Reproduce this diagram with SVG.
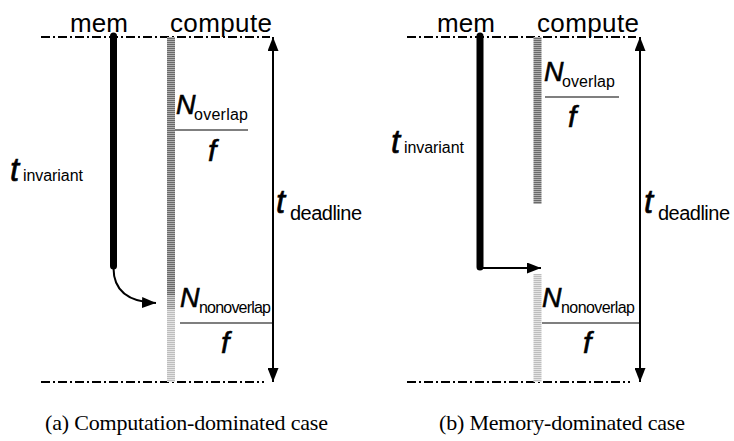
<svg xmlns="http://www.w3.org/2000/svg" width="734" height="441" viewBox="0 0 734 441">
<style>
.sans{font-family:"Liberation Sans",Arial,sans-serif;fill:#000}
.big{font-size:26px}
.nn{font-size:27px;font-style:italic;stroke:#000;stroke-width:0.6}
.tt{font-size:33px;font-style:italic;stroke:#000;stroke-width:0.6}
.ff{font-size:30px;font-style:italic;stroke:#000;stroke-width:0.6}
.sub{font-size:16px}
.cap{font-family:"Liberation Serif","Times New Roman",serif;font-size:22px;fill:#000}
.dd{stroke:#000;stroke-width:2;stroke-dasharray:9 3 2 3;fill:none}
.mem{stroke:#000;stroke-width:7;stroke-linecap:round;fill:none}
.frac{stroke:#000;stroke-width:1.2}
.arr{stroke:#000;stroke-width:2;fill:none}
</style>
<defs>
<pattern id="pd" patternUnits="userSpaceOnUse" width="8" height="2"><rect width="8" height="2" fill="#b0b0b0"/><rect width="8" height="1" fill="#6a6a6a"/></pattern>
<pattern id="pl" patternUnits="userSpaceOnUse" width="8" height="2"><rect width="8" height="2" fill="#e4e4e4"/><rect width="8" height="1" fill="#bdbdbd"/></pattern>
<pattern id="pm" patternUnits="userSpaceOnUse" width="8" height="2"><rect width="8" height="2" fill="#cfcfcf"/><rect width="8" height="1" fill="#939393"/></pattern>
<marker id="ah" viewBox="0 0 14 11" refX="14" refY="5.5" markerWidth="14" markerHeight="11" markerUnits="userSpaceOnUse" orient="auto-start-reverse"><path d="M0,0 L14,5.5 L0,11 z" fill="#000"/></marker>
</defs>

<g id="timelines">
<line class="dd" x1="41" y1="37" x2="270" y2="37"/>
<line class="dd" x1="41" y1="382" x2="264" y2="382"/>
<line class="dd" x1="407" y1="37" x2="636" y2="37"/>
<line class="dd" x1="407" y1="382" x2="630" y2="382"/>
</g>

<g id="a-mem">
<text class="sans big" x="70" y="32" textLength="58">mem</text>
<line class="mem" x1="113.5" y1="36" x2="113.5" y2="266"/>
</g>
<g id="a-compute">
<text class="sans big" x="170" y="32" textLength="102">compute</text>
<rect x="167" y="37" width="8" height="258" fill="url(#pd)"/>
<rect x="167" y="295" width="8" height="14" fill="url(#pm)"/>
<rect x="167" y="309" width="8" height="73" fill="url(#pl)"/>
</g>
<g id="a-tinv">
<text class="sans tt" x="10" y="181">t</text>
<text class="sans sub" x="23" y="181" textLength="60">invariant</text>
</g>
<g id="a-nover">
<text class="sans nn" x="176" y="114">N</text>
<text class="sans sub" x="194" y="120" textLength="54">overlap</text>
<line class="frac" x1="175" y1="130" x2="248" y2="130"/>
<text class="sans ff" x="208" y="161">f</text>
</g>
<g id="a-nnon">
<text class="sans nn" x="180" y="307">N</text>
<text class="sans sub" x="199" y="313" textLength="72">nonoverlap</text>
<line class="frac" x1="180" y1="323" x2="273" y2="323"/>
<text class="sans ff" x="221" y="353">f</text>
</g>
<g id="a-tdead">
<text class="sans tt" x="276" y="213">t</text>
<text class="sans" font-size="20" x="290" y="220" textLength="72">deadline</text>
</g>

<g id="b-mem">
<text class="sans big" x="437" y="32" textLength="58">mem</text>
<line class="mem" x1="480" y1="36" x2="480" y2="267"/>
</g>
<g id="b-compute">
<text class="sans big" x="537" y="32" textLength="102">compute</text>
<rect x="533.5" y="37" width="8" height="167" fill="url(#pd)"/>
<rect x="533.5" y="274" width="8" height="108" fill="url(#pl)"/>
</g>
<g id="b-tinv">
<text class="sans tt" x="391" y="153">t</text>
<text class="sans sub" x="404" y="153" textLength="60">invariant</text>
</g>
<g id="b-nover">
<text class="sans nn" x="544" y="81">N</text>
<text class="sans sub" x="562" y="87" textLength="53">overlap</text>
<line class="frac" x1="545" y1="97" x2="619" y2="97"/>
<text class="sans ff" x="568" y="127">f</text>
</g>
<g id="b-nnon">
<text class="sans nn" x="542" y="307">N</text>
<text class="sans sub" x="561" y="313" textLength="74">nonoverlap</text>
<line class="frac" x1="542" y1="323" x2="640" y2="323"/>
<text class="sans ff" x="583" y="353">f</text>
</g>
<g id="b-tdead">
<text class="sans tt" x="644" y="213">t</text>
<text class="sans" font-size="20" x="658" y="220" textLength="72">deadline</text>
</g>

<g id="connectors">
<line class="arr" x1="273" y1="37" x2="273" y2="382" marker-start="url(#ah)" marker-end="url(#ah)"/>
<line class="arr" x1="640" y1="37" x2="640" y2="382" marker-start="url(#ah)" marker-end="url(#ah)"/>
<path class="arr" stroke-width="2.5" d="M113.5,268 C113.5,290 128,302 156,303" marker-end="url(#ah)"/>
<path class="arr" d="M480,268 L541,268" marker-end="url(#ah)"/>
</g>

<g id="captions">
<text class="cap" x="45" y="430" textLength="283">(a) Computation-dominated case</text>
<text class="cap" x="439" y="430" textLength="246">(b) Memory-dominated case</text>
</g>
</svg>
